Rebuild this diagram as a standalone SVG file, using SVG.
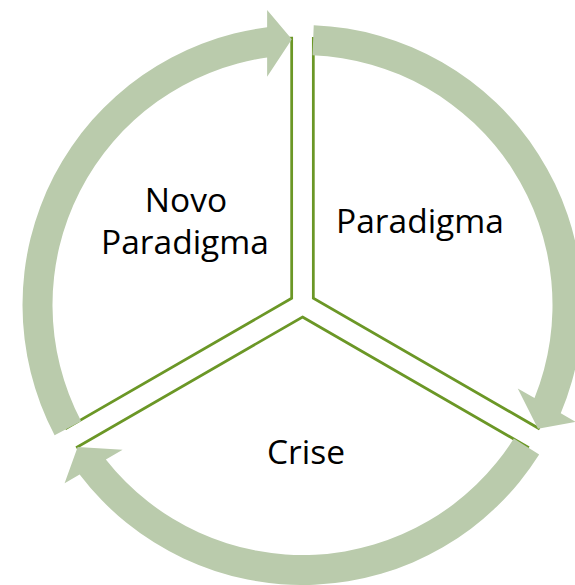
<svg xmlns="http://www.w3.org/2000/svg" width="575" height="585" viewBox="0 0 575 585">
<style>
.sector{fill:#ffffff;stroke:#6B9726;stroke-width:2.75;stroke-linejoin:miter}
.arrow{fill:#BACBAC;stroke:none}
.label{font-family:"Open Sans","Liberation Sans",sans-serif;font-size:33.5px;fill:#000000;text-anchor:middle}
</style>
<defs>
<path id="sec" d="M313.33,298.25 L313.33,38.25 A260,260 0 0 1 538.5,428.25 Z"/>
<path id="arr" d="M313.74,25.23 A280,280 0 0 1 560.74,413.25 L575.77,421.93 L538,428.65 L517.75,388.43 L534.52,398.11 A250,250 0 0 0 312.53,55.2 Z"/>
</defs>
<g id="node-paradigma">
<use href="#sec" class="sector"/>
<text class="label" x="420" y="233">Paradigma</text>
</g>
<g id="node-crise">
<use href="#sec" class="sector" transform="rotate(120 302.5 304.5)"/>
<text class="label" x="306" y="464">Crise</text>
</g>
<g id="node-novo-paradigma">
<use href="#sec" class="sector" transform="rotate(240 302.5 304.5)"/>
<text class="label" x="186" y="212">Novo</text>
<text class="label" x="185" y="254">Paradigma</text>
</g>
<g id="connectors">
<use href="#arr" class="arrow"/>
<use href="#arr" class="arrow" transform="rotate(120 302.5 305)"/>
<use href="#arr" class="arrow" transform="rotate(240 302.5 305)"/>
</g>
</svg>
